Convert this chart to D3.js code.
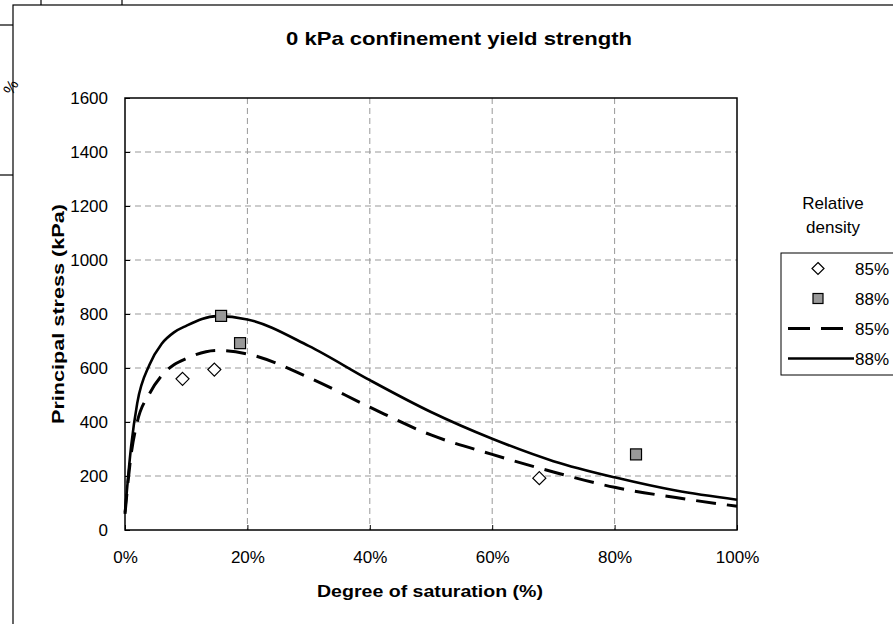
<!DOCTYPE html>
<html><head><meta charset="utf-8">
<script src="https://cdn.jsdelivr.net/npm/d3@7"></script>
<style>body{margin:0;background:#fff}svg{display:block;font-family:"Liberation Sans",Arial,sans-serif}</style>
</head><body><svg id="c" width="893" height="624"></svg>
<script>
const xTicks = [0, 20, 40, 60, 80, 100];
const yTicks = [0, 200, 400, 600, 800, 1000, 1200, 1400, 1600];
const sat85 = [9.4, 14.6, 67.7];
const stress85 = [560, 594, 192];
const sat88 = [15.7, 18.8, 83.5];
const stress88 = [793, 692, 280];
const curveSat = [0, 1, 2, 4, 6, 8, 10, 15, 20, 30, 40, 50, 60, 70, 80, 90, 100];
const curve85 = [60, 280, 400, 505, 572, 612, 635, 665, 652, 565, 455, 352, 280, 215, 158, 120, 88];
const curve88 = [65, 310, 470, 612, 690, 732, 756, 792, 780, 682, 555, 437, 338, 255, 195, 146, 112];
const legendLabels = ["85%", "88%", "85%", "88%"];

const svg = d3.select("#c");
// surrounding artifacts
svg.append("rect").attr("x",13).attr("y",5).attr("width",900).attr("height",640).attr("fill","#fff").attr("stroke","#000").attr("stroke-width",1.2);
svg.append("text").attr("transform","translate(12,96) rotate(-60)").attr("font-size",16).text("%");
[[41,0,41,5],[122,0,122,5],[0,25,13,25],[0,175,13,175]].forEach(d=>svg.append("line").attr("x1",d[0]).attr("y1",d[1]).attr("x2",d[2]).attr("y2",d[3]).attr("stroke","#000").attr("stroke-width",1.2));

const L=125,R=737,T=98,B=530;
const x = d3.scaleLinear().domain([0,100]).range([L,R]);
const y = d3.scaleLinear().domain([0,1600]).range([B,T]);

// grid
svg.append("g").selectAll("line").data(xTicks.slice(1,-1)).join("line")
 .attr("x1",d=>x(d)).attr("x2",d=>x(d)).attr("y1",T).attr("y2",B)
 .attr("stroke","#999").attr("stroke-dasharray","6,4").attr("stroke-width",1);
svg.append("g").selectAll("line").data(yTicks.slice(1,-1)).join("line")
 .attr("x1",L).attr("x2",R).attr("y1",d=>y(d)).attr("y2",d=>y(d))
 .attr("stroke","#999").attr("stroke-dasharray","6,4").attr("stroke-width",1);

// axes
const xa = svg.append("g").attr("transform",`translate(0,${B})`)
 .call(d3.axisBottom(x).tickValues(xTicks).tickFormat(d=>d+"%").tickSizeInner(-5).tickSizeOuter(0).tickPadding(21));
const ya = svg.append("g").attr("transform",`translate(${L},0)`)
 .call(d3.axisLeft(y).tickValues(yTicks).tickFormat(d3.format("d")).tickSizeInner(-5).tickSizeOuter(0).tickPadding(17));
[xa,ya].forEach(a=>{a.attr("font-size",17).attr("font-family","Liberation Sans, Arial, sans-serif");
 a.selectAll("text").attr("fill","#000");
 a.selectAll("line").attr("stroke","#000"); a.select(".domain").remove();});
svg.append("rect").attr("x",L).attr("y",T).attr("width",R-L).attr("height",B-T).attr("fill","none").attr("stroke","#000").attr("stroke-width",1.5);

// lines
const pts = (xs,ys)=>xs.map((v,i)=>[v,ys[i]]);
const line = d3.line().x(d=>x(d[0])).y(d=>y(d[1])).curve(d3.curveMonotoneX);
svg.append("path").attr("d",line(pts(curveSat,curve85))).attr("fill","none").attr("stroke","#000").attr("stroke-width",3).attr("stroke-dasharray","20,11");
svg.append("path").attr("d",line(pts(curveSat,curve88))).attr("fill","none").attr("stroke","#000").attr("stroke-width",2.6);

// markers
const diamond = (cx,cy,s)=>`M${cx},${cy-s}L${cx+s},${cy}L${cx},${cy+s}L${cx-s},${cy}Z`;
svg.append("g").selectAll("path").data(pts(sat85,stress85)).join("path")
 .attr("d",d=>diamond(x(d[0]),y(d[1]),6.5)).attr("fill","#fff").attr("stroke","#000").attr("stroke-width",1.2);
svg.append("g").selectAll("rect").data(pts(sat88,stress88)).join("rect")
 .attr("x",d=>x(d[0])-5.5).attr("y",d=>y(d[1])-5.5).attr("width",11).attr("height",11)
 .attr("fill","#999").attr("stroke","#000").attr("stroke-width",1.2);

// titles
svg.append("text").attr("x",459).attr("y",45).attr("text-anchor","middle").attr("font-size",19).attr("font-weight","bold")
 .attr("textLength",346).attr("lengthAdjust","spacingAndGlyphs").text("0 kPa confinement yield strength");
svg.append("text").attr("x",430).attr("y",597).attr("text-anchor","middle").attr("font-size",17).attr("font-weight","bold")
 .attr("textLength",226).attr("lengthAdjust","spacingAndGlyphs").text("Degree of saturation (%)");
svg.append("text").attr("transform","translate(64,314) rotate(-90)").attr("text-anchor","middle").attr("font-size",17).attr("font-weight","bold")
 .attr("textLength",220).attr("lengthAdjust","spacingAndGlyphs").text("Principal stress (kPa)");

// legend
svg.append("text").attr("x",833).attr("y",209).attr("text-anchor","middle").attr("font-size",17).text("Relative");
svg.append("text").attr("x",833).attr("y",233).attr("text-anchor","middle").attr("font-size",17).text("density");
svg.append("rect").attr("x",781).attr("y",253).attr("width",130).attr("height",122).attr("fill","#fff").attr("stroke","#000").attr("stroke-width",1);
const ry = [268.5,298.5,328.5,358.5];
svg.append("path").attr("d",diamond(818,ry[0],6)).attr("fill","#fff").attr("stroke","#000").attr("stroke-width",1.2);
svg.append("rect").attr("x",813).attr("y",ry[1]-5).attr("width",10).attr("height",10).attr("fill","#999").attr("stroke","#000").attr("stroke-width",1.2);
svg.append("line").attr("x1",788).attr("x2",848).attr("y1",ry[2]).attr("y2",ry[2]).attr("stroke","#000").attr("stroke-width",3).attr("stroke-dasharray","22,11");
svg.append("line").attr("x1",788).attr("x2",854).attr("y1",ry[3]).attr("y2",ry[3]).attr("stroke","#000").attr("stroke-width",2.6);
svg.append("g").selectAll("text").data(legendLabels).join("text")
 .attr("x",855).attr("y",(d,i)=>ry[i]+6).attr("font-size",17).text(d=>d);
</script></body></html>
